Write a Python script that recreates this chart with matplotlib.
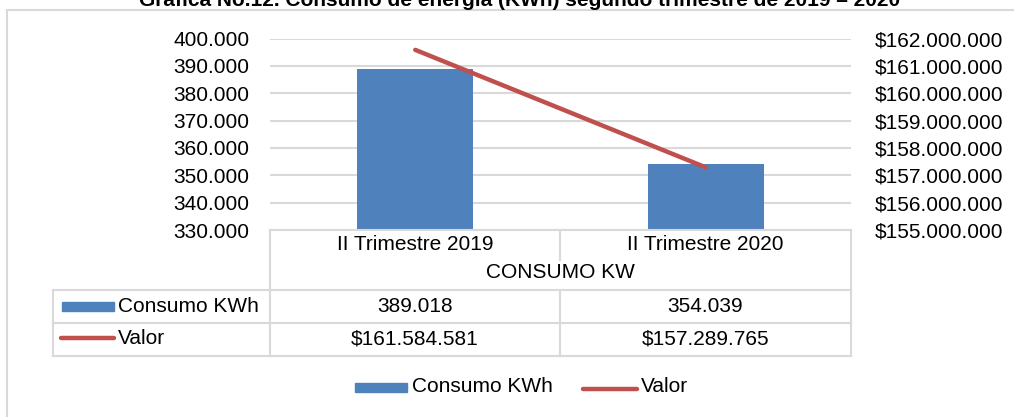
import matplotlib
matplotlib.use("Agg")
import matplotlib.pyplot as plt
from matplotlib.lines import Line2D
from matplotlib.patches import Rectangle

categories = ["II Trimestre 2019", "II Trimestre 2020"]
consumo_kwh = [389018, 354039]
valor = [161584581, 157289765]
left_ticks = [330000, 340000, 350000, 360000, 370000, 380000, 390000, 400000]
right_ticks = [155000000, 156000000, 157000000, 158000000, 159000000, 160000000, 161000000, 162000000]
title = "Gráfica No.12. Consumo de energía (KWh) segundo trimestre de 2019 – 2020"
group_label = "CONSUMO KW"
series_names = ["Consumo KWh", "Valor"]

BLUE = "#4F81BD"
RED = "#C0504D"
GRID = "#D9D9D9"
FS = 15

plt.rcParams['font.family'] = ['Liberation Sans', 'DejaVu Sans']

W, H = 1014, 417
fig = plt.figure(figsize=(W / 100, H / 100), dpi=100)

def fx(px):
    return px / W

def fy(py):
    return 1 - py / H

def fmt(v, money=False):
    s = f"{v:,.0f}".replace(",", ".")
    return ("$" + s) if money else s

# outer chart border
fig.add_artist(Rectangle((fx(7), fy(470)), fx(1100), fy(10) - fy(470),
                         transform=fig.transFigure, fill=False,
                         edgecolor=GRID, lw=1.5))

# title (cut at top as in reference)
fig.text(fx(520), fy(6), title, ha="center", va="baseline",
         fontsize=FS, fontweight="bold")

# plot area
L, R, T, B = 270, 851, 38.5, 230
ax = fig.add_axes([fx(L), fy(B), fx(R - L), fy(T) - fy(B)])
x = list(range(len(categories)))
ax.bar(x, consumo_kwh, width=0.4, color=BLUE, zorder=2)
ax.set_xlim(-0.5, len(categories) - 0.5)
ax.set_ylim(left_ticks[0], left_ticks[-1])
ax.set_yticks(left_ticks)
ax.set_yticklabels([fmt(v) for v in left_ticks], fontsize=FS)
ax.set_xticks([])
ax.grid(axis="y", color=GRID, lw=1.5, zorder=0)
ax.tick_params(axis="y", length=0, pad=15)
for s in ax.spines.values():
    s.set_visible(False)

ax2 = ax.twinx()
ax2.plot(x, valor, color=RED, lw=3.2, solid_capstyle="round", zorder=3)
ax2.set_ylim(right_ticks[0], right_ticks[-1])
ax2.set_yticks(right_ticks)
ax2.set_yticklabels([fmt(v, True) for v in right_ticks], fontsize=FS)
ax2.tick_params(axis="y", length=0, pad=17)
for s in ax2.spines.values():
    s.set_visible(False)

# data table
def hline(y, x0, x1):
    fig.add_artist(Line2D([fx(x0), fx(x1)], [fy(y), fy(y)], color=GRID, lw=1.5,
                          transform=fig.transFigure))

def vline(xp, y0, y1):
    fig.add_artist(Line2D([fx(xp), fx(xp)], [fy(y0), fy(y1)], color=GRID, lw=1.5,
                          transform=fig.transFigure))

TL = 53
rows_y = [230, 260, 290, 323, 356]
col_x = [L, 560, R]
hline(rows_y[0], L, R)
hline(rows_y[2], TL, R)
hline(rows_y[3], TL, R)
hline(rows_y[4], TL, R)
vline(L, rows_y[0], rows_y[4])
vline(R, rows_y[0], rows_y[4])
vline(col_x[1], rows_y[0], rows_y[1])
vline(col_x[1], rows_y[2], rows_y[4])
vline(TL, rows_y[2], rows_y[4])

centers = [(col_x[i] + col_x[i + 1]) / 2 for i in range(len(categories))]
for c, cat in zip(centers, categories):
    fig.text(fx(c), fy(245), cat, ha="center", va="center", fontsize=FS)
fig.text(fx((L + R) / 2), fy(273), group_label, ha="center", va="center", fontsize=FS)
for c, v in zip(centers, consumo_kwh):
    fig.text(fx(c), fy(307), fmt(v), ha="center", va="center", fontsize=FS)
for c, v in zip(centers, valor):
    fig.text(fx(c), fy(339), fmt(v, True), ha="center", va="center", fontsize=FS)

# row keys
fig.add_artist(Rectangle((fx(62), fy(311)), fx(52), fy(302) - fy(311),
                         transform=fig.transFigure, color=BLUE))
fig.text(fx(118), fy(306), series_names[0], ha="left", va="center", fontsize=FS)
fig.add_artist(Line2D([fx(61), fx(114)], [fy(338), fy(338)], color=RED, lw=3.2,
                      solid_capstyle="round", transform=fig.transFigure))
fig.text(fx(118), fy(338), series_names[1], ha="left", va="center", fontsize=FS)

# bottom legend
fig.add_artist(Rectangle((fx(355), fy(392)), fx(52), fy(383) - fy(392),
                         transform=fig.transFigure, color=BLUE))
fig.text(fx(412), fy(387), series_names[0], ha="left", va="center", fontsize=FS)
fig.add_artist(Line2D([fx(583), fx(637)], [fy(389), fy(389)], color=RED, lw=3.2,
                      solid_capstyle="round", transform=fig.transFigure))
fig.text(fx(641), fy(387), series_names[1], ha="left", va="center", fontsize=FS)

fig.savefig("out.png", dpi=100)
